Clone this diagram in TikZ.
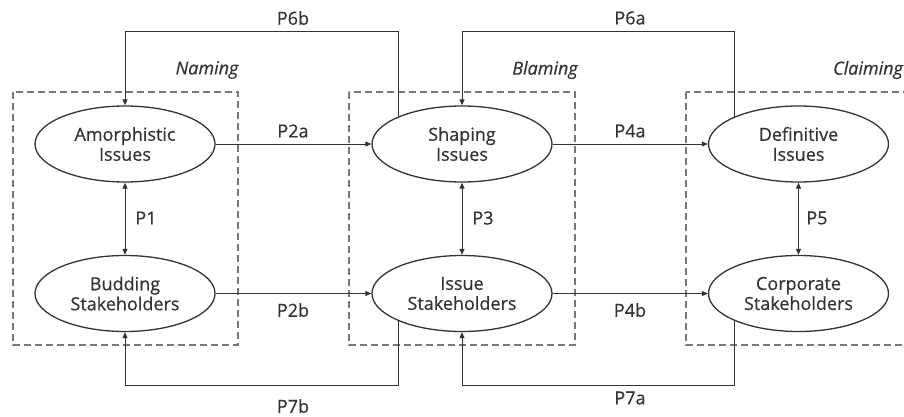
\documentclass[tikz,border=0pt]{standalone}
\usepackage{fontspec}
\setmainfont{Open Sans}[FakeBold=0.5]
\newfontfamily\labelfont{Open Sans}[FakeBold=0.5]
\usetikzlibrary{arrows.meta,shapes.geometric}
\definecolor{ink}{HTML}{333333}
\definecolor{frame}{HTML}{777777}
\begin{document}
\begin{tikzpicture}[x=1pt,y=-1pt,
  font=\labelfont\fontsize{18}{20}\selectfont,
  every node/.style={text=ink},
  stage/.style={ellipse,draw=ink,line width=1.3pt,minimum width=180pt,minimum height=76pt,inner sep=0pt,align=center},
  phase/.style={draw=frame,line width=1.3pt,dash pattern=on 7pt off 4pt},
  link/.style={draw=ink,line width=1pt,-{Triangle[length=6pt,width=5pt]}},
  twoway/.style={draw=ink,line width=1pt,{Triangle[length=6pt,width=5pt]}-{Triangle[length=6pt,width=5pt]}},
  tag/.style={inner sep=0pt},
  phasename/.style={inner sep=0pt,font=\labelfont\fontsize{18}{20}\selectfont\itshape}]
\useasboundingbox (0,0) rectangle (904,417);
\clip (0,0) rectangle (904,417);

% phase frames
\draw[phase] (13,92) rectangle (238,345);
\draw[phase] (349,92) rectangle (575,345);
\draw[phase] (686,92) rectangle (930,345);

\node[phasename] (naming) at (207,70) {Naming};
\node[phasename] (blaming) at (545,70) {Blaming};
\node[phasename] (claiming) at (868,70) {Claiming};

% issue and stakeholder stages
\node[stage] (amor) at (125,144) {Amorphistic\\Issues};
\node[stage] (shap) at (462,144) {Shaping\\Issues};
\node[stage] (defi) at (798.5,144) {Definitive\\Issues};
\node[stage] (bud)  at (125,293.5) {Budding\\Stakeholders};
\node[stage] (iss)  at (462,293.5) {Issue\\Stakeholders};
\node[stage] (corp) at (798.5,293.5) {Corporate\\Stakeholders};

% forward transitions
\draw[link] (amor.east) -- (shap.west);
\draw[link] (shap.east) -- (defi.west);
\draw[link] (bud.east) -- (iss.west);
\draw[link] (iss.east) -- (corp.west);

% issue-stakeholder links
\draw[twoway] (amor.south) -- (bud.north);
\draw[twoway] (shap.south) -- (iss.north);
\draw[twoway] (defi.south) -- (corp.north);

% feedback loops above
\draw[link] ([shift={(-64,-26.7)}]shap.center) |- ([yshift=74pt]amor.north) -- (amor.north);
\draw[link] ([shift={(-64,-26.7)}]defi.center) |- ([yshift=74pt]shap.north) -- (shap.north);

% feedback loops below
\draw[link] ([shift={(-64,26.7)}]iss.center) |- ([yshift=-53.5pt]bud.south) -- (bud.south);
\draw[link] ([shift={(-64,26.7)}]corp.center) |- ([yshift=-53.5pt]iss.south) -- (iss.south);

% proposition labels
\node[tag] (p2a) at (293,131) {P2a};
\node[tag] (p4a) at (630,131) {P4a};
\node[tag] (p2b) at (293,310) {P2b};
\node[tag] (p4b) at (630,310) {P4b};
\node[tag] (p1) at (146,218) {P1};
\node[tag] (p3) at (483,218) {P3};
\node[tag] (p5) at (817,218) {P5};
\node[tag] (p6b) at (293,18) {P6b};
\node[tag] (p6a) at (630,18) {P6a};
\node[tag] (p7b) at (293,406) {P7b};
\node[tag] (p7a) at (630,398) {P7a};
\end{tikzpicture}
\end{document}
